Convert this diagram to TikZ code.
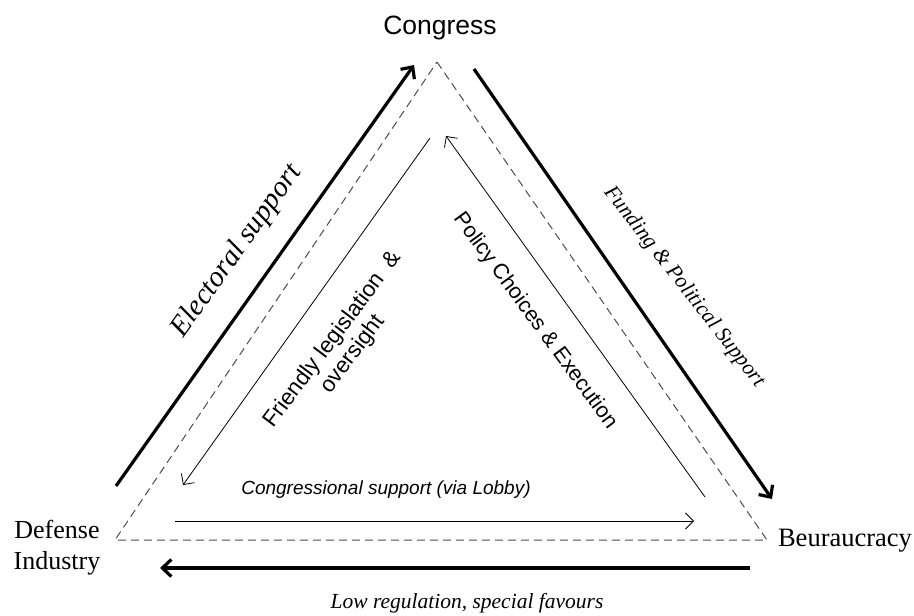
\documentclass[tikz,border=0pt]{standalone}
\usepackage{fontspec}
\setmainfont{Liberation Serif}
\setsansfont{Liberation Sans}
\usetikzlibrary{arrows.meta}
\tikzset{
  thick arrow/.style={line width=3.2pt,-{Straight Barb[length=9pt,width=17pt,line width=3.2pt]}},
  thin arrow/.style={line width=0.8pt,-{Straight Barb[length=8pt,width=16pt,line width=0.8pt]}},
  serif lbl/.style={font=\fontsize{26.5}{30}\selectfont},
  sans lbl/.style={font=\sffamily\fontsize{22.5}{25}\selectfont}
}
\begin{document}
\begin{tikzpicture}[x=1pt,y=-1pt]
  \useasboundingbox (0,0) rectangle (914,616);
  \draw
    (440,28) node[sans lbl,font=\sffamily\fontsize{26.5}{30}\selectfont] (congress){Congress}
    (57,548) node[serif lbl,align=center,font=\fontsize{26}{31}\selectfont] (defense){Defense\\Industry}
    (845,541) node[serif lbl] (bureau){Beuraucracy}
    (467,603) node[serif lbl,font=\itshape\fontsize{21.5}{24}\selectfont] (lowreg){Low regulation, special favours}
    (237,251) node[serif lbl,rotate=54.6,font=\itshape\fontsize{29}{32}\selectfont] (electoral){Electoral support}
    (684,287) node[serif lbl,rotate=-52,font=\itshape\fontsize{21.5}{24}\selectfont] (funding){Funding \& Political Support}
    (343,347) node[sans lbl,rotate=53,align=center] (friendly){Friendly legislation \ \&\\oversight}
    (535,321) node[sans lbl,rotate=-53.7,font=\sffamily\fontsize{21.5}{24}\selectfont] (policy){Policy Choices \& Execution}
    (386,490) node[sans lbl,font=\sffamily\itshape\fontsize{19}{22}\selectfont] (lobby){Congressional support (via Lobby)};
  % triangle corners
  \coordinate (apex) at (437,62);
  \coordinate (left) at (115,540);
  \coordinate (right) at (767,540);
  \begin{scope}[line width=1pt,black!70,dash pattern=on 8pt off 5pt]
    \draw (apex) -- (right) -- (left) -- cycle;
  \end{scope}
  % arrow ends
  \coordinate (es0) at (116,486);
  \coordinate (es1) at (414,65);
  \coordinate (fp0) at (474,69);
  \coordinate (fp1) at (772,499);
  \coordinate (lr0) at (750,568);
  \coordinate (lr1) at (160,568);
  \coordinate (fl0) at (430,138);
  \coordinate (fl1) at (183,485);
  \coordinate (pc0) at (705,497);
  \coordinate (pc1) at (446,136);
  \coordinate (cs0) at (175,521);
  \coordinate (cs1) at (694,521);
  \begin{scope}[thick arrow]
    \draw (es0) to (es1);
    \draw (fp0) to (fp1);
    \draw (lr0) to (lr1);
  \end{scope}
  \begin{scope}[thin arrow]
    \draw (fl0) to (fl1);
    \draw (pc0) to (pc1);
    \draw (cs0) to (cs1);
  \end{scope}
\end{tikzpicture}
\end{document}
